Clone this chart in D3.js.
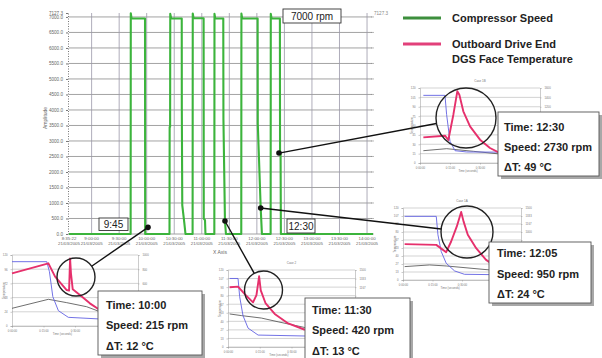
<!DOCTYPE html>
<html>
<head>
<script src="https://d3js.org/d3.v7.min.js"></script>
<style>
body{margin:0;background:#fff;}
svg{display:block;font-family:"Liberation Sans",Arial,sans-serif;}
</style>
</head>
<body>
<script>
var w = 602, h = 358;

// compressor speed trend (rpm)
var speedTimes = ["08:35:22","09:42:30","09:42:40","09:43:30","09:58:10","09:58:20","10:24:50","10:25:00","10:25:30","10:25:40","10:26:40","10:38:10","10:38:15","10:38:45","10:41:00","10:42:15","10:50:00","10:50:10","10:51:00","11:02:00","11:02:10","11:03:30","11:04:00","11:13:40","11:13:50","11:14:40","11:23:25","11:23:35","11:25:15","11:26:20","11:43:00","11:43:10","11:44:00","12:00:50","12:01:00","12:04:10","12:05:30","12:15:00","12:15:10","12:16:00","12:25:05","12:25:15","12:25:50","12:26:10","14:06:30"];
var speedValues = [0,0,7120,6950,6950,0,0,3450,3450,7100,6950,6950,4050,930,350,0,0,7110,6960,6960,500,450,0,0,7100,6950,6950,3700,420,0,0,7110,6950,6950,3550,840,0,0,7100,6950,6950,2650,2550,0,0];

var yTicks = d3.range(0, 7001, 500);
var yTop = 7127.3;
var xTickTimes = ["08:35:22","09:00:00","09:30:00","10:00:00","10:30:00","11:00:00","11:30:00","12:00:00","12:30:00","13:00:00","13:30:00","14:00:00"];
var dateLabel = "21/03/2005";

// events marked on the trend
var eventTimes = ["10:01:25","11:25:16","12:04:10","12:24:06"];
var eventDotSpeeds = [215, 420, 840, 2610];
var eventLabels = ["10:00","11:30","12:05","12:30"];
var eventRpm = [215, 420, 950, 2730];
var eventDeltaT = [12, 13, 24, 49];

// inset curves [time %, level %] for each event (10:00, 11:30, 12:05, 12:30)
var pink1000 = [[0,74.2],[28.9,88.3],[34.2,69.5],[43.4,50.7],[45.3,49.8],[46.1,95.3],[46.8,74.2],[48.2,51.6],[53.9,43.7],[61.8,31.9],[69.7,22.5]];
var blue1000 = [[0,90.6],[27.6,90.6],[29.7,76.5],[32.4,41.3],[36.8,21.6],[44.7,12.2],[69.7,9.9],[98.7,9.4]];
var dark1000 = [[0,24.9],[28.9,37.6],[43.4,32.9],[59.2,27.2],[69.7,20.2],[98.7,15.5]];

var pink1130 = [[1.3,77.6],[7.9,78.4],[13.2,68.6],[19.7,58],[22.4,67.3],[24.5,91.8],[25.8,73.5],[29.5,57.1],[36.8,42.9],[47.4,30.6],[60.5,22.4]];
var blue1130 = [[1.3,89],[7.9,89],[9.2,65.3],[11.8,40.8],[15.8,24.5],[23.7,15.5],[60.5,14.3],[98.7,14.3]];
var dark1130 = [[1.3,42.9],[10.5,40.8],[26.3,37.6],[39.5,32.7],[60.5,25.3],[98.7,21.2]];

var pink1205 = [[1.4,49.8],[28.2,48.8],[36.6,38.6],[40.8,53.5],[45.6,74.4],[49.3,94.4],[51.3,81.4],[54.9,62.8],[62,44.2],[70.4,27.9],[78.9,18.6]];
var blue1205 = [[1.4,88.4],[28.2,88.4],[29.6,62.8],[32.4,39.5],[36.6,23.3],[43.7,12.6],[52.1,7.9],[98.6,7]];
var dark1205 = [[1.4,18.6],[22.5,20.9],[36.6,19.5],[73.2,14],[98.6,11.6]];

var pink1230 = [[2.8,34.2],[20.8,36.4],[23.6,30.7],[27.8,64.4],[31.1,95.6],[32.8,91.1],[36.1,68.9],[41.7,48.9],[50,31.1],[58.3,20],[66.7,13.3],[77.8,8.9]];
var blue1230 = [[2.8,90.2],[20.8,90.2],[22.2,64.4],[25,28.9],[29.2,16.4],[38.9,14.7],[100,14.2]];
var dark1230 = [[2.8,16.4],[22.2,19.1],[44.4,15.6],[66.7,12],[100,10.2]];

var svg = d3.select('body').append('svg').attr('width', w).attr('height', h);
var parseT = d3.timeParse('%H:%M:%S');

var x = d3.scaleTime()
  .domain([parseT(speedTimes[0]), parseT(speedTimes[speedTimes.length - 1])])
  .range([69, 373]);
var y = d3.scaleLinear().domain([0, yTop]).range([234, 13]);

// grid
svg.selectAll('line.hg').data(yTicks).enter().append('line')
  .attr('x1', 69).attr('x2', 372)
  .attr('y1', function(d){ return y(d); }).attr('y2', function(d){ return y(d); })
  .attr('stroke', '#8c8c8c').attr('stroke-width', 0.8);
svg.selectAll('line.vg').data(xTickTimes.slice(1)).enter().append('line')
  .attr('x1', function(d){ return x(parseT(d)); }).attr('x2', function(d){ return x(parseT(d)); })
  .attr('y1', 13).attr('y2', 234)
  .attr('stroke', '#9a98a8').attr('stroke-width', 0.8);

// y axis
var yAxis = svg.append('g').attr('transform', 'translate(68,0)')
  .call(d3.axisLeft(y).tickValues(yTicks.concat([yTop])).tickSize(2).tickFormat(d3.format('.1f')));
yAxis.select('.domain').attr('stroke', '#777').attr('stroke-dasharray', '1,1.5');
yAxis.selectAll('.tick line').attr('stroke', '#777');
yAxis.selectAll('text').attr('font-size', 4.6).attr('fill', '#666');

// right-hand ticks
svg.selectAll('line.rt').data(yTicks).enter().append('line')
  .attr('x1', 371).attr('x2', 374)
  .attr('y1', function(d){ return y(d); }).attr('y2', function(d){ return y(d); })
  .attr('stroke', '#888').attr('stroke-width', 0.6);
svg.append('text').attr('x', 374).attr('y', y(yTop) + 1.5).attr('font-size', 4.6).attr('fill', '#888').text(d3.format('.1f')(yTop));

// x labels
var xl = svg.selectAll('g.xl').data(xTickTimes).enter().append('g')
  .attr('transform', function(d){ return 'translate(' + x(parseT(d)) + ',0)'; });
xl.append('text').attr('y', 240).attr('text-anchor', 'middle').attr('font-size', 4.4).attr('fill', '#666')
  .text(function(d){ return d.replace(/^0/, ''); });
xl.append('text').attr('y', 245).attr('text-anchor', 'middle').attr('font-size', 4.4).attr('fill', '#666')
  .text(dateLabel);

svg.append('text').attr('transform', 'translate(47,118) rotate(-90)').attr('text-anchor', 'middle')
  .attr('font-size', 5).attr('fill', '#666').text('Amplitude');
svg.append('text').attr('x', 220).attr('y', 254).attr('text-anchor', 'middle')
  .attr('font-size', 5).attr('fill', '#666').text('X Axis');

// speed trace
var speedData = speedTimes.map(function(t, i){ return {t: parseT(t), v: speedValues[i]}; });
var speedLine = d3.line()
  .x(function(d){ return x(d.t); })
  .y(function(d){ return y(d.v); });
svg.append('path').attr('d', speedLine(speedData))
  .attr('fill', 'none').attr('stroke', '#3cb43c').attr('stroke-width', 2.1).attr('stroke-linejoin', 'round');

// small label boxes on the trend
function labelBox(bx, by, bw, bh, txt) {
  svg.append('rect').attr('x', bx).attr('y', by).attr('width', bw).attr('height', bh)
    .attr('fill', '#fff').attr('stroke', '#333').attr('stroke-width', 0.9);
  svg.append('text').attr('x', bx + bw / 2).attr('y', by + bh / 2 + 3.5).attr('text-anchor', 'middle')
    .attr('font-size', 10).attr('fill', '#222').text(txt);
}
labelBox(283, 9, 58, 14, '7000 rpm');
labelBox(99, 218, 29, 12.5, '9:45');
labelBox(287, 219, 28, 14, eventLabels[3]);

// callout text boxes (layout)
var boxes = [
  {x: 98, y: 291, w: 104, h: 64, tx: 106, ty: [309, 329, 350]},
  {x: 305, y: 298, w: 105, h: 66, tx: 312, ty: [314, 334, 355]},
  {x: 489, y: 242, w: 102, h: 61, tx: 497, ty: [257, 278, 298]},
  {x: 498, y: 112, w: 101, h: 64, tx: 504, ty: [131, 151, 171]}
];

// inset charts
function drawInset(box, nGrid, pink, blue, dark, title, rightMax) {
  var g = svg.append('g');
  var ix = d3.scaleLinear().domain([0, 100]).range([box.x, box.x + box.w]);
  var iy = d3.scaleLinear().domain([0, 100]).range([box.y + box.h, box.y]);
  var gv = d3.range(nGrid + 1).map(function(i){ return i * 100 / nGrid; });
  g.selectAll('line').data(gv).enter().append('line')
    .attr('x1', box.x).attr('x2', box.x + box.w)
    .attr('y1', function(d){ return iy(d); }).attr('y2', function(d){ return iy(d); })
    .attr('stroke', '#b5b5b5').attr('stroke-width', 0.6);
  var la = g.append('g').attr('transform', 'translate(' + box.x + ',0)')
    .call(d3.axisLeft(iy).tickValues(gv).tickSize(1.5).tickFormat(function(d){ return Math.round(d * 1.2); }));
  var ra = g.append('g').attr('transform', 'translate(' + (box.x + box.w) + ',0)')
    .call(d3.axisRight(iy).tickValues(gv).tickSize(1.5).tickFormat(function(d){ return Math.round(d * rightMax / 100); }));
  var ba = g.append('g').attr('transform', 'translate(0,' + (box.y + box.h) + ')')
    .call(d3.axisBottom(ix).tickValues([0, 25, 50]).tickSize(1.5).tickFormat(function(d){ return '0:' + d3.format('02d')(Math.round(d * 0.6)) + ':00'; }));
  [la, ra, ba].forEach(function(a){
    a.selectAll('path,line').attr('stroke', '#999').attr('stroke-width', 0.5);
    a.selectAll('text').attr('font-size', 2.8).attr('fill', '#777');
  });
  g.append('text').attr('x', box.x + box.w * 0.4).attr('y', box.y + box.h + 9).attr('text-anchor', 'middle')
    .attr('font-size', 2.8).attr('fill', '#777').text('Time (seconds)');
  g.append('text').attr('transform', 'translate(' + (box.x - 7) + ',' + (box.y + box.h / 2) + ') rotate(-90)')
    .attr('text-anchor', 'middle').attr('font-size', 3).attr('fill', '#777').text('Temperature');
  if (title) {
    g.append('text').attr('x', box.x + box.w / 2).attr('y', box.y - 6).attr('text-anchor', 'middle')
      .attr('font-size', 3).attr('fill', '#777').text(title);
  }
  var ln = d3.line().x(function(d){ return ix(d[0]); }).y(function(d){ return iy(d[1]); });
  g.append('path').attr('d', ln(dark)).attr('fill', 'none').attr('stroke', '#4a4a4a').attr('stroke-width', 0.8);
  g.append('path').attr('d', ln(blue)).attr('fill', 'none').attr('stroke', '#6262e2').attr('stroke-width', 0.9);
  g.append('path').attr('d', ln(pink)).attr('fill', 'none').attr('stroke', '#e6306c').attr('stroke-width', 1.9).attr('stroke-linejoin', 'round');
  // tick labels that sit under a callout box are hidden there anyway
  g.selectAll('text').each(function(){
    var r = this.getBoundingClientRect();
    var hidden = boxes.some(function(b){
      return r.right > b.x && r.left < b.x + b.w + 3 && r.bottom > b.y && r.top < b.y + b.h + 3;
    });
    if (hidden) d3.select(this).remove();
  });
}

var insets = [
  {box: {x: 12, y: 255, w: 126, h: 71}, grid: 5, pink: pink1000, blue: blue1000, dark: dark1000, title: null, rmax: 1000, c: [76, 277], r: 19},
  {box: {x: 228, y: 270, w: 127, h: 77}, grid: 9, pink: pink1130, blue: blue1130, dark: dark1130, title: 'Case 2', rmax: 1500, c: [263.5, 290], r: 19},
  {box: {x: 403, y: 208, w: 118, h: 72}, grid: 9, pink: pink1205, blue: blue1205, dark: dark1205, title: 'Case 1A', rmax: 1500, c: [467, 232], r: 26},
  {box: {x: 420, y: 88, w: 120, h: 75}, grid: 8, pink: pink1230, blue: blue1230, dark: dark1230, title: 'Case 1B', rmax: 1600, c: [466, 118], r: 30}
];
insets.forEach(function(s){ drawInset(s.box, s.grid, s.pink, s.blue, s.dark, s.title, s.rmax); });

// callout leaders, circles and dots
insets.forEach(function(s, i){
  var dx = x(parseT(eventTimes[i])), dy = y(eventDotSpeeds[i]);
  var vx = dx - s.c[0], vy = dy - s.c[1], len = Math.sqrt(vx * vx + vy * vy);
  svg.append('line').attr('x1', dx).attr('y1', dy)
    .attr('x2', s.c[0] + vx / len * s.r).attr('y2', s.c[1] + vy / len * s.r)
    .attr('stroke', '#111').attr('stroke-width', 1.4);
  svg.append('circle').attr('cx', s.c[0]).attr('cy', s.c[1]).attr('r', s.r)
    .attr('fill', 'none').attr('stroke', '#222').attr('stroke-width', 1.4);
  svg.append('circle').attr('cx', dx).attr('cy', dy).attr('r', 2.8).attr('fill', '#111');
});

boxes.forEach(function(b, i){
  svg.append('rect').attr('x', b.x + 3).attr('y', b.y + 3).attr('width', b.w).attr('height', b.h).attr('fill', '#a8a8a8');
  svg.append('rect').attr('x', b.x).attr('y', b.y).attr('width', b.w).attr('height', b.h)
    .attr('fill', '#fff').attr('stroke', '#555').attr('stroke-width', 0.9);
  var lines = ['Time: ' + eventLabels[i], 'Speed: ' + eventRpm[i] + ' rpm', '\u0394T: ' + eventDeltaT[i] + ' \u00B0C'];
  lines.forEach(function(t, k){
    svg.append('text').attr('x', b.tx).attr('y', b.ty[k]).attr('font-size', 11).attr('font-weight', 'bold')
      .attr('fill', '#222').text(t);
  });
});

// legend
var legendNames = [['Compressor Speed'], ['Outboard Drive End', 'DGS Face Temperature']];
var legendColors = ['#3d8f3d', '#e2407a'];
var legendY = [18, 44];
legendNames.forEach(function(names, i){
  svg.append('line').attr('x1', 403).attr('x2', 441).attr('y1', legendY[i]).attr('y2', legendY[i])
    .attr('stroke', legendColors[i]).attr('stroke-width', 3);
  names.forEach(function(n, k){
    svg.append('text').attr('x', 452).attr('y', legendY[i] + 4 + k * 15).attr('font-size', 11)
      .attr('font-weight', 'bold').attr('fill', '#222').text(n);
  });
});
</script>
</body>
</html>
